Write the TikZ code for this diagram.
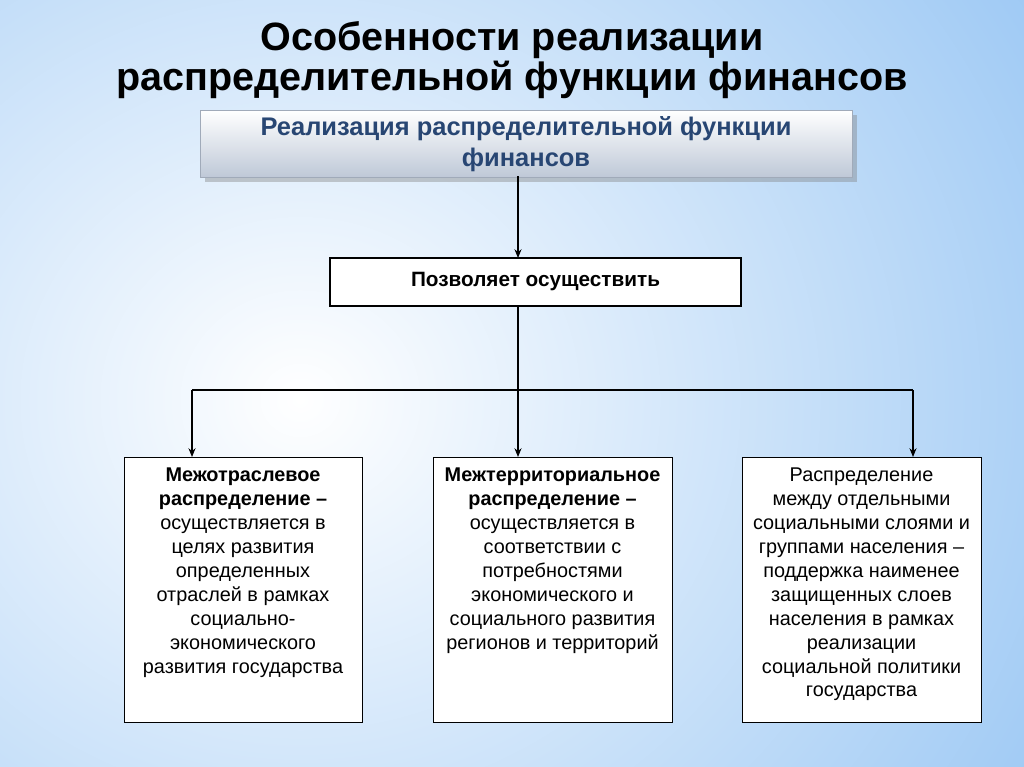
\documentclass[tikz,border=0pt]{standalone}
\usepackage{fontspec}
\setmainfont{Liberation Sans}
\usetikzlibrary{arrows.meta,shadows}
\begin{document}
\begin{tikzpicture}[x=0.02cm,y=-0.02cm,
  bx/.style={draw=black,fill=white,line width=0.6pt,align=center,font=\fontsize{11.3}{13.6}\selectfont,anchor=north west,inner sep=0pt},
  ar/.style={-{Stealth[length=5pt,width=4pt]},line width=0.6pt}]
\useasboundingbox (0,0) rectangle (1024,767);
\begin{scope}
\clip (0,0) rectangle (1024,767);
\shade[inner color=white, outer color={rgb,255:red,120;green,180;blue,240}] (-900,-700) rectangle (1500,1500);
\end{scope}
\node[font=\bfseries\fontsize{22.5}{22.7}\selectfont,align=center] (title) at (512,60) {Особенности реализации\\распределительной функции финансов};
\node[draw={rgb,255:red,160;green,170;blue,185},top color=white,bottom color={rgb,255:red,190;green,200;blue,215},
  drop shadow={opacity=0.4},minimum width=652*0.02cm,minimum height=64*0.02cm,align=center,
  text={rgb,255:red,40;green,70;blue,115},font=\bfseries\fontsize{14.5}{18}\selectfont] (top) at (526,144)
  {Реализация распределительной функции\\финансов};
\node[draw=black,fill=white,line width=0.6pt,minimum width=411*0.02cm,minimum height=48*0.02cm,font=\bfseries\fontsize{11.8}{14}\selectfont] (mid) at (535.5,282) {Позволяет осуществить};
\node[bx,minimum width=238*0.02cm,minimum height=265*0.02cm] (b1) at (124,457) {};
\node[bx,minimum width=239*0.02cm,minimum height=265*0.02cm] (b2) at (433,457) {};
\node[bx,minimum width=239*0.02cm,minimum height=265*0.02cm] (b3) at (742,457) {};
\node[anchor=north,align=center,font=\fontsize{11.3}{13.6}\selectfont] (t1) at (243,462) {\textbf{Межотраслевое}\\\textbf{распределение –}\\осуществляется в\\целях развития\\определенных\\отраслей в рамках\\социально-\\экономического\\развития государства};
\node[anchor=north,align=center,font=\fontsize{11.3}{13.6}\selectfont] (t2) at (552.5,462) {\textbf{Межтерриториальное}\\\textbf{распределение –}\\осуществляется в\\соответствии с\\потребностями\\экономического и\\социального развития\\регионов и территорий};
\node[anchor=north,align=center,font=\fontsize{11.3}{13.6}\selectfont] (t3) at (861.5,462) {Распределение\\между отдельными\\социальными слоями и\\группами населения –\\поддержка наименее\\защищенных слоев\\населения в рамках\\реализации\\социальной политики\\государства};
\draw[ar] (518,176) -- (518,258);
\coordinate (j) at (518,390);
\coordinate (l) at (192,390);
\coordinate (r) at (913,390);
\draw[line width=0.6pt] (518,306) -- (j);
\draw[line width=0.6pt] (l) -- (r);
\draw[ar] (l) -- (192,457);
\draw[ar] (j) -- (518,457);
\draw[ar] (r) -- (913,457);
\end{tikzpicture}
\end{document}
